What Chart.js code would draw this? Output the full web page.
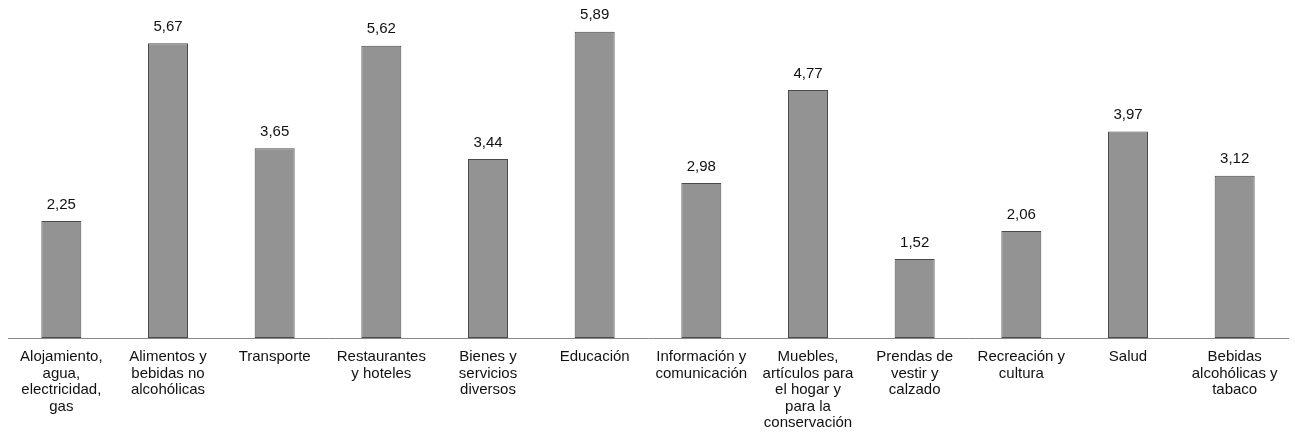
<!DOCTYPE html>
<html>
<head>
<meta charset="utf-8">
<script src="https://cdn.jsdelivr.net/npm/chart.js@4.4.1/dist/chart.umd.min.js"></script>
<style>
    body { margin: 0; background: #fff; }
    #wrap { width: 1295px; height: 448px; }
</style>
</head>
<body>
<div id="wrap"><canvas id="chartGasto" width="1295" height="448"></canvas></div>
<script>
const categorias = [
    ['Alojamiento,', 'agua,', 'electricidad,', 'gas'],
    ['Alimentos y', 'bebidas no', 'alcohólicas'],
    ['Transporte'],
    ['Restaurantes', 'y hoteles'],
    ['Bienes y', 'servicios', 'diversos'],
    ['Educación'],
    ['Información y', 'comunicación'],
    ['Muebles,', 'artículos para', 'el hogar y', 'para la', 'conservación'],
    ['Prendas de', 'vestir y', 'calzado'],
    ['Recreación y', 'cultura'],
    ['Salud'],
    ['Bebidas', 'alcohólicas y', 'tabaco']
];

const valores = [2.25, 5.67, 3.65, 5.62, 3.44, 5.89, 2.98, 4.77, 1.52, 2.06, 3.97, 3.12];

const FONT = 'Liberation Sans, Arial, sans-serif';

function fmt(v) {
    return v.toFixed(2).replace('.', ',');
}

// etiquetas encima de cada barra
const etiquetasValor = {
    id: 'etiquetasValor',
    afterDatasetsDraw(chart) {
        const ctx = chart.ctx;
        const meta = chart.getDatasetMeta(0);
        ctx.save();
        ctx.font = '15px ' + FONT;
        ctx.fillStyle = '#111';
        ctx.textAlign = 'center';
        ctx.textBaseline = 'bottom';
        meta.data.forEach((bar, i) => {
            ctx.fillText(fmt(valores[i]), bar.x, bar.y - 9);
        });
        ctx.restore();
    }
};

const data = {
    labels: categorias,
    datasets: [
        {
            label: 'Variación',
            data: valores,
            backgroundColor: '#939393',
            borderColor: '#4a4a4a',
            borderWidth: 1,
            borderSkipped: false,
            barPercentage: 0.375,
            categoryPercentage: 1
        }
    ]
};

const config = {
    type: 'bar',
    data: data,
    options: {
        responsive: false,
        animation: false,
        layout: {
            padding: { left: 8, right: 7, top: 0, bottom: 0 }
        },
        plugins: {
            legend: { display: false },
            tooltip: { enabled: false }
        },
        scales: {
            x: {
                grid: { display: false },
                border: { display: true, color: '#8a8a8a', width: 1, dash: [3, 2] },
                ticks: {
                    autoSkip: false,
                    maxRotation: 0,
                    padding: 3,
                    color: '#111',
                    font: { family: FONT, size: 15, lineHeight: 1.1 }
                },
                afterFit: (s) => { s.height = 110; }
            },
            y: {
                display: false,
                min: 0,
                max: 6.5
            }
        }
    },
    plugins: [etiquetasValor]
};

let ctx = document.getElementById('chartGasto').getContext('2d');
new Chart(ctx, config);
</script>
</body>
</html>
